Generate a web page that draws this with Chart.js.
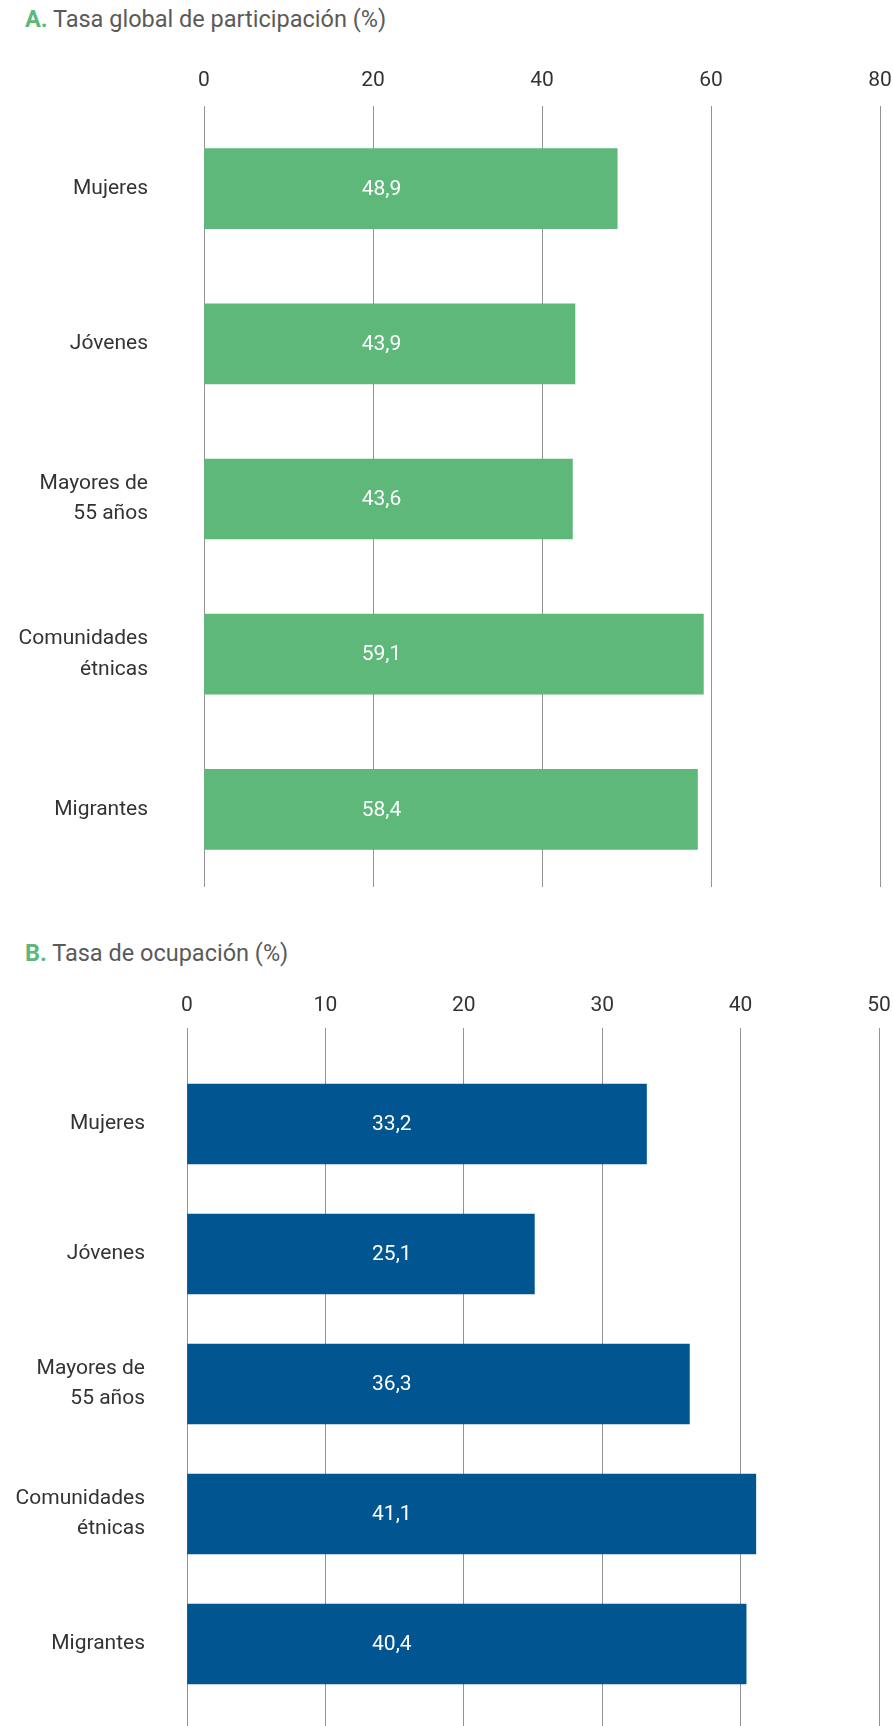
<!DOCTYPE html>
<html lang="es">
<head>
<meta charset="utf-8">
<title>Tasa global de participación y tasa de ocupación</title>
<script src="https://cdn.jsdelivr.net/npm/chart.js@4.4.1/dist/chart.umd.min.js"></script>
<style>
    body { margin: 0; background: #fff; font-family: Roboto, sans-serif; }
    #page { position: relative; width: 893px; height: 1726px; overflow: hidden; }
    .panel-title { position: absolute; left: 25px; font-size: 23.5px; line-height: 23px; color: #5a5a5a; white-space: nowrap; }
    .panel-title b { color: #5db87a; font-weight: 700; }
    canvas { position: absolute; left: 0; }
</style>
</head>
<body>
<div id="page">
    <div class="panel-title" style="top: 8px;"><b>A.</b> Tasa global de participación (%)</div>
    <canvas id="chartParticipation" width="893" height="836" style="top: 51px;"></canvas>

    <div class="panel-title" style="top: 942px;"><b>B.</b> Tasa de ocupación (%)</div>
    <canvas id="chartOccupation" width="893" height="744" style="top: 982px;"></canvas>
</div>

<script>
// Data
const categories = ['Mujeres', 'Jóvenes', ['Mayores de', '55 años'], ['Comunidades', 'étnicas'], 'Migrantes'];
const participationRates = [48.9, 43.9, 43.6, 59.1, 58.4];
const occupationRates = [33.2, 25.1, 36.3, 41.1, 40.4];
const participationTicks = [0, 20, 40, 60, 80];
const occupationTicks = [0, 10, 20, 30, 40, 50];

const GREEN = '#5db87a';
const BLUE = '#015692';
const TEXT = '#333333';
const GRID = '#939393';

// Value labels written inside the bars, all at the same x position
const barValueLabels = {
    id: 'barValueLabels',
    afterDatasetsDraw(chart, args, opts) {
        const ctx = chart.ctx;
        const xScale = chart.scales.x;
        const x = xScale.getPixelForValue(opts.at);
        const meta = chart.getDatasetMeta(0);
        ctx.save();
        ctx.font = '21px Roboto, sans-serif';
        ctx.fillStyle = '#fff';
        ctx.textAlign = 'center';
        ctx.textBaseline = 'middle';
        meta.data.forEach(function (bar, i) {
            const value = chart.data.datasets[0].data[i];
            ctx.fillText(value.toFixed(1).replace('.', ','), x, bar.y + 1);
        });
        ctx.restore();
    }
};

function buildOptions(ticks, cfg) {
    const scales = {
        x: {
            position: 'top',
            min: ticks[0],
            max: ticks[ticks.length - 1],
            afterFit: function (scale) {
                scale.height = cfg.axisHeight;
                // the layout padding alone decides the right edge
                scale.paddingLeft = 0;
                scale.paddingRight = 0;
            },
            ticks: {
                stepSize: ticks[1] - ticks[0],
                color: TEXT,
                padding: cfg.tickPadding,
                font: { family: 'Roboto', size: 21 }
            },
            grid: {
                color: GRID,
                lineWidth: 1,
                drawTicks: true,
                tickLength: cfg.tickLength
            },
            border: { display: false }
        },
        y: {
            afterFit: function (scale) {
                scale.width = cfg.yWidth;
                // labels must not push the plot area down or up
                scale.paddingTop = 0;
                scale.paddingBottom = 0;
            },
            ticks: {
                color: TEXT,
                padding: cfg.labelPadding,
                font: { family: 'Roboto', size: 21, lineHeight: 1.45 }
            },
            grid: { display: false },
            border: { display: false }
        }
    };

    // extra axis at the bottom, only to carry the grid lines on below the bars
    if (cfg.bottomTickLength) {
        scales.x2 = {
            position: 'bottom',
            min: ticks[0],
            max: ticks[ticks.length - 1],
            afterFit: function (scale) {
                scale.paddingLeft = 0;
                scale.paddingRight = 0;
            },
            ticks: { display: false, stepSize: ticks[1] - ticks[0] },
            grid: {
                color: GRID,
                lineWidth: 1,
                drawOnChartArea: false,
                drawTicks: true,
                tickLength: cfg.bottomTickLength
            },
            border: { display: false }
        };
    }

    return {
        indexAxis: 'y',
        responsive: false,
        animation: false,
        layout: { padding: { left: 0, right: cfg.rightPad, top: 0, bottom: 0 } },
        plugins: {
            legend: { display: false },
            tooltip: { enabled: false },
            barValueLabels: { at: cfg.labelAt }
        },
        scales: scales
    };
}

function initializeCharts() {
    // A. Tasa global de participación
    new Chart(document.getElementById('chartParticipation').getContext('2d'), {
        type: 'bar',
        data: {
            labels: categories,
            datasets: [{
                data: participationRates,
                backgroundColor: GREEN,
                borderWidth: 0,
                barThickness: 80
            }]
        },
        options: buildOptions(participationTicks, {
            axisHeight: 60,
            tickLength: 5,
            tickPadding: 13,
            yWidth: 204,
            labelPadding: 48,
            rightPad: 13,
            labelAt: 21
        }),
        plugins: [barValueLabels]
    });

    // B. Tasa de ocupación
    new Chart(document.getElementById('chartOccupation').getContext('2d'), {
        type: 'bar',
        data: {
            labels: categories,
            datasets: [{
                data: occupationRates,
                backgroundColor: BLUE,
                borderWidth: 0,
                barThickness: 80
            }]
        },
        options: buildOptions(occupationTicks, {
            axisHeight: 77,
            tickLength: 31,
            tickPadding: 10,
            yWidth: 187,
            labelPadding: 34,
            rightPad: 14,
            labelAt: 14.8,
            bottomTickLength: 17
        }),
        plugins: [barValueLabels]
    });
}

document.addEventListener('DOMContentLoaded', initializeCharts);
</script>
</body>
</html>
